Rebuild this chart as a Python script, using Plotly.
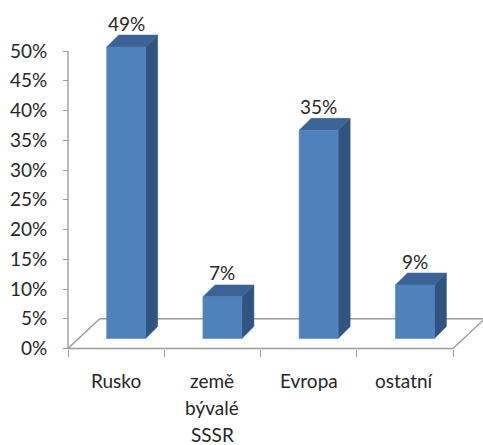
import plotly.graph_objects as go

# Data
categories = ["Rusko", "země\nbývalé\nSSSR", "Evropa", "ostatní"]
shares = [49, 7, 35, 9]
tick_values = list(range(0, 51, 5))
tick_labels = [f"{t}%" for t in tick_values]

# 3D look (data units: x in category slots, y in percent)
BAR_W = 0.405          # front face width
OFF_X, OFF_Y = 0.104, 1.68   # front face offset from the floor's front edge
DEP_X, DEP_Y = 0.125, 2.0    # bar depth
FLOOR_X, FLOOR_Y = 0.33, 5.0 # floor depth

FRONT = "#4F81BD"
SIDE = "#315380"
TOP = "#3B6396"
AXIS = "#9c9c9c"
TEXT = "#262626"
FONT = "Lato"

n = len(categories)
x_lo, x_hi = -0.5, n - 0.5

fig = go.Figure()

# floor
fig.add_trace(go.Scatter(
    x=[x_lo, x_hi, x_hi + FLOOR_X, x_lo + FLOOR_X, x_lo],
    y=[0, 0, FLOOR_Y, FLOOR_Y, 0],
    mode="lines", line=dict(color=AXIS, width=1.4),
    hoverinfo="skip", showlegend=False))

# vertical axis line
fig.add_trace(go.Scatter(
    x=[x_lo, x_lo], y=[0, tick_values[-1]],
    mode="lines", line=dict(color=AXIS, width=1.4),
    hoverinfo="skip", showlegend=False))

fx, fy, sx, sy, tx, ty = [], [], [], [], [], []
for i, v in enumerate(shares):
    x0 = i + OFF_X - BAR_W / 2
    x1 = i + OFF_X + BAR_W / 2
    y0 = OFF_Y
    y1 = OFF_Y + v
    fx += [x0, x1, x1, x0, x0, None]
    fy += [y0, y0, y1, y1, y0, None]
    sx += [x1, x1 + DEP_X, x1 + DEP_X, x1, x1, None]
    sy += [y0, y0 + DEP_Y, y1 + DEP_Y, y1, y0, None]
    tx += [x0, x1, x1 + DEP_X, x0 + DEP_X, x0, None]
    ty += [y1, y1, y1 + DEP_Y, y1 + DEP_Y, y1, None]

for xs, ys, col in [(sx, sy, SIDE), (tx, ty, TOP), (fx, fy, FRONT)]:
    fig.add_trace(go.Scatter(
        x=xs, y=ys, mode="lines", fill="toself", fillcolor=col,
        line=dict(color=col, width=0.5),
        hoverinfo="skip", showlegend=False))

annotations = []

# value labels above each bar
for i, v in enumerate(shares):
    annotations.append(dict(
        x=i + OFF_X, y=v + OFF_Y + DEP_Y, xref="x", yref="y",
        text=f"{v}%", showarrow=False,
        xanchor="center", yanchor="middle", yshift=12,
        font=dict(family=FONT, size=19, color=TEXT)))

# category labels, one annotation per line
for i, cat in enumerate(categories):
    for k, line in enumerate(cat.split("\n")):
        annotations.append(dict(
            x=i, y=0, xref="x", yref="y", text=line, showarrow=False,
            xanchor="center", yanchor="middle",
            yshift=-32 - 27 * k,
            font=dict(family=FONT, size=19, color=TEXT)))

W, H = 483, 445
ML, MB = 60, 90
px_x = 96.25   # pixels per category slot
px_y = 5.95    # pixels per percent
axis_px_x = 68
zero_px_y = 348.5
plot_w, plot_h = W - ML, H - MB

fig.update_layout(
    width=W, height=H,
    margin=dict(l=ML, r=0, t=0, b=MB, pad=0),
    paper_bgcolor="white", plot_bgcolor="white",
    annotations=annotations,
    xaxis=dict(
        range=[x_lo - (axis_px_x - ML) / px_x, x_lo + (W - axis_px_x) / px_x],
        anchor="free", position=(plot_h - zero_px_y) / plot_h,
        showgrid=False, zeroline=False, showline=False,
        tickmode="array", tickvals=[x_lo + k for k in range(n + 1)],
        showticklabels=False, ticks="outside", ticklen=7,
        tickcolor=AXIS, tickwidth=1.4),
    yaxis=dict(
        range=[-(plot_h - zero_px_y) / px_y, zero_px_y / px_y],
        anchor="free", position=(axis_px_x - ML) / plot_w,
        showgrid=False, zeroline=False, showline=False,
        tickmode="array", tickvals=tick_values, ticktext=tick_labels,
        ticks="outside", ticklen=5, tickcolor=AXIS, tickwidth=1.4,
        ticklabelstandoff=12,
        tickfont=dict(family=FONT, size=19, color=TEXT)),
)

fig.write_html("out.html")
